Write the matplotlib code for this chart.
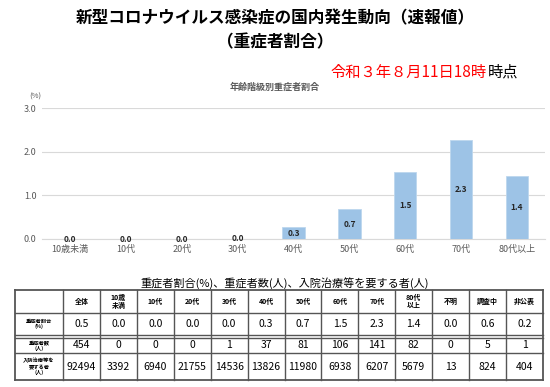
import matplotlib
matplotlib.use('Agg')
import matplotlib.pyplot as plt

plt.rcParams['font.family'] = ['Noto Sans CJK JP', 'DejaVu Sans']

# 年齢階級
ages = ['10歳未満', '10代', '20代', '30代', '40代', '50代', '60代', '70代', '80代以上']

# 表のデータ
cols = ['全体', '10歳\n未満', '10代', '20代', '30代', '40代', '50代', '60代', '70代', '80代\n以上', '不明', '調査中', '非公表']
rows = ['重症者割合\n(%)', '重症者数\n(人)', '入院治療等を\n要する者\n(人)']
ratio = ['0.5', '0.0', '0.0', '0.0', '0.0', '0.3', '0.7', '1.5', '2.3', '1.4', '0.0', '0.6', '0.2']
severe = [454, 0, 0, 0, 1, 37, 81, 106, 141, 82, 0, 5, 1]
inpatient = [92494, 3392, 6940, 21755, 14536, 13826, 11980, 6938, 6207, 5679, 13, 824, 404]

# グラフ用の割合 (重症者数 / 入院治療等を要する者)
bar_vals = [severe[i] / inpatient[i] * 100 for i in range(1, 10)]

fig = plt.figure(figsize=(5.5, 3.87), dpi=100)

fig.text(0.5, 1 - 18 / 387, '新型コロナウイルス感染症の国内発生動向（速報値）',
         ha='center', va='center', fontsize=12, fontweight='bold')
fig.text(0.5, 1 - 42 / 387, '（重症者割合）',
         ha='center', va='center', fontsize=12, fontweight='bold')
fig.text(518 / 550, 1 - 72 / 387, '時点', ha='right', va='center', fontsize=11)
fig.text(487 / 550, 1 - 72 / 387, '令和３年８月11日18時', ha='right', va='center',
         fontsize=11, color='red')
fig.text(0.5, 1 - 87 / 387, '年齢階級別重症者割合', ha='center', va='center',
         fontsize=6.5, fontweight='bold', color='#595959')

# 棒グラフ
ax = fig.add_axes([42 / 550, 1 - 239 / 387, 503 / 550, 131 / 387])
x = range(len(ages))
ax.bar(x, bar_vals, width=0.4, color='#9DC3E6', edgecolor='#BDD7EE', linewidth=0.6, zorder=3)
for i, v in enumerate(bar_vals):
    ax.text(i, max(v / 2, 0.0), f'{v:.1f}', ha='center', va='center',
            fontsize=6, fontweight='bold', color='#262626', zorder=4)
ax.set_xlim(-0.5, len(ages) - 0.5)
ax.set_ylim(0, 3.0)
ax.set_yticks([0, 1, 2, 3])
ax.set_yticklabels(['0.0', '1.0', '2.0', '3.0'])
ax.set_xticks(list(x))
ax.set_xticklabels(ages)
ax.tick_params(length=0, labelsize=6.5, colors='#595959', pad=4)
ax.grid(axis='y', color='#D9D9D9', linewidth=0.8, zorder=0)
for s in ['top', 'right', 'left']:
    ax.spines[s].set_visible(False)
ax.spines['bottom'].set_color('#D9D9D9')
fig.text(35 / 550, 1 - 97 / 387, '(%)', ha='center', va='center', fontsize=5.5, color='#595959')

# 表
fig.text(285 / 550, 1 - 283 / 387, '重症者割合(%)、重症者数(人)、入院治療等を要する者(人)',
         ha='center', va='center', fontsize=8)

tb = fig.add_axes([0, 0, 1, 1])
tb.set_xlim(0, 550)
tb.set_ylim(387, 0)
tb.axis('off')

xs = [15, 63] + [63 + (543 - 63) * (i + 1) / 13 for i in range(13)]
ys = [290, 313, 335, 353, 380]
lc = '#555555'
for yy in ys:
    tb.plot([xs[0], xs[-1]], [yy, yy], color=lc, lw=1.0 if yy not in (290, 380) else 1.3)
tb.plot([xs[0], xs[-1]], [338, 338], color=lc, lw=1.0)
for xx in xs:
    tb.plot([xx, xx], [ys[0], ys[-1]], color=lc, lw=1.0 if xx not in (15, 543) else 1.3)

for j, c in enumerate(cols):
    cx = (xs[j + 1] + xs[j + 2]) / 2
    tb.text(cx, (ys[0] + ys[1]) / 2, c, ha='center', va='center', fontsize=5,
            fontweight='bold', linespacing=1.1)

rcy = [(ys[1] + ys[2]) / 2, (338 + ys[3]) / 2, (ys[3] + ys[4]) / 2]
for i, r in enumerate(rows):
    tb.text((xs[0] + xs[1]) / 2, rcy[i], r, ha='center', va='center', fontsize=3.8,
            fontweight='bold', linespacing=1.1)

for j in range(len(cols)):
    cx = (xs[j + 1] + xs[j + 2]) / 2
    tb.text(cx, rcy[0], ratio[j], ha='center', va='center', fontsize=7.5)
    tb.text(cx, rcy[1], str(severe[j]), ha='center', va='center', fontsize=7.5)
    tb.text(cx, rcy[2], str(inpatient[j]), ha='center', va='center', fontsize=7.5)

fig.savefig('out.png', dpi=100)
